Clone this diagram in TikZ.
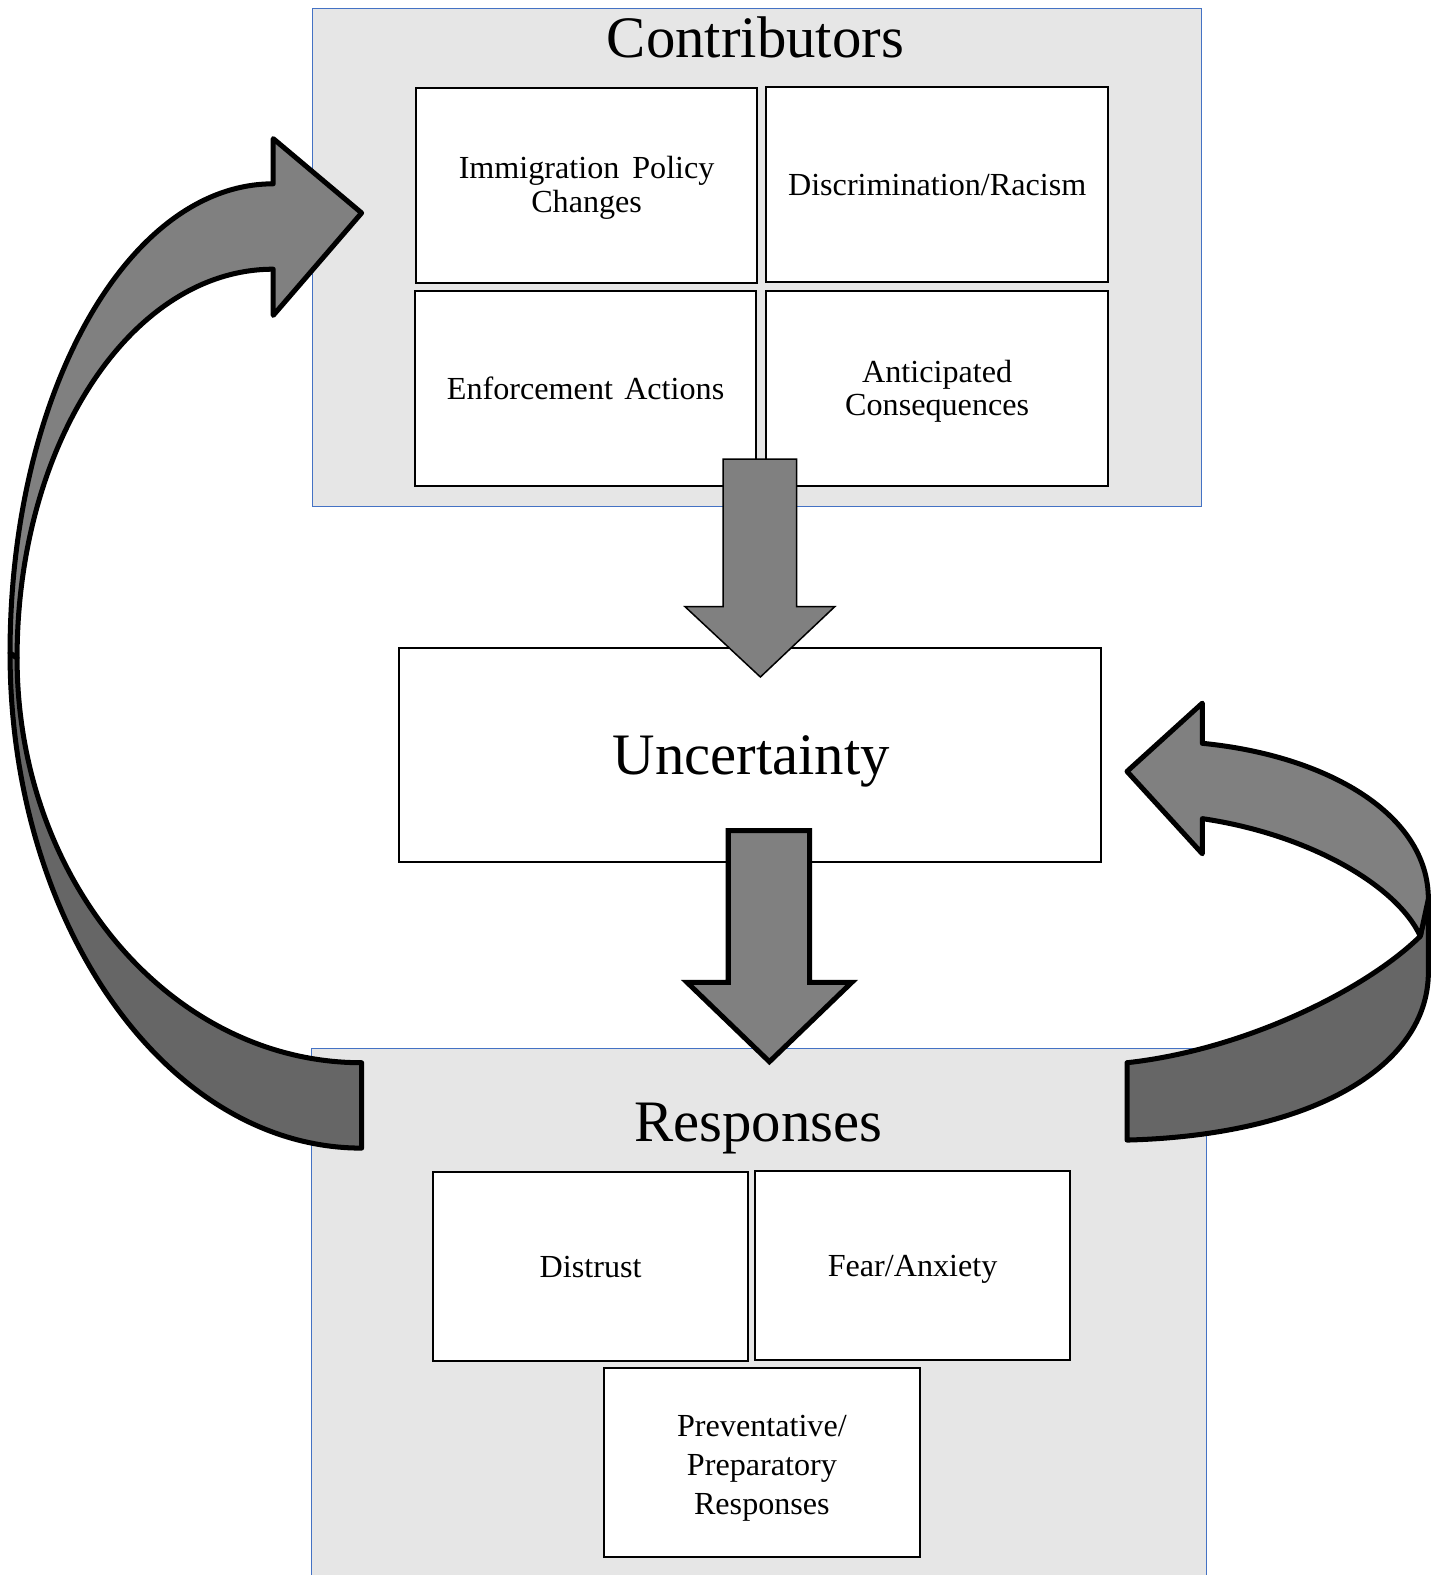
\documentclass[tikz,border=0pt]{standalone}
\usepackage{fontspec}
\setmainfont{Liberation Serif}
\definecolor{panelgray}{RGB}{230,230,230}
\definecolor{panelblue}{RGB}{68,114,196}
\definecolor{arrowlight}{RGB}{128,128,128}
\definecolor{arrowdark}{RGB}{102,102,102}
\newcommand{\titlefont}{\fontsize{29.25}{31}\selectfont}
\newcommand{\itemfont}{\fontsize{16}{16.5}\selectfont}
\newcommand{\boxtext}[2]{\raisebox{#1}[\height][\depth]{\begin{tabular}{@{}c@{}}#2\end{tabular}}}
\begin{document}
\begin{tikzpicture}[x=0.5pt,y=-0.5pt,
  panel/.style={draw=panelblue,fill=panelgray,line width=0.5pt},
  topbox/.style={draw,fill=white,line width=1pt,minimum width=170pt,minimum height=97pt,align=center,font=\itemfont,inner sep=0pt},
  lowbox/.style={topbox,minimum width=157pt,minimum height=94pt},
  heading/.style={anchor=base,font=\titlefont,inner sep=0pt},
  blockarrow/.style={draw,fill=arrowlight,line join=miter},
  bandarrow/.style={draw,line width=2.5pt,line join=round}]
\useasboundingbox (0,0) rectangle (1429,1568);

% panels
\draw[panel] (311,8) rectangle (1196,504);
\fill[panelgray] (310,1044) rectangle (1201,1568);
\draw[panelblue,line width=0.5pt] (310,1568) -- (310,1044) -- (1201,1044) -- (1201,1568);

\node[heading] (contrib) at (752,57) {Contributors};
\node[topbox] (ipc) at (584,185) {\boxtext{-1.5pt}{Immigration\hspace{0.4em}Policy\\Changes}};
\node[topbox] (dis) at (933,184) {Discrimination/Racism};
\node[topbox] (enf) at (583,387) {Enforcement\hspace{0.35em}Actions};
\node[topbox] (ant) at (933,387) {\boxtext{-2pt}{Anticipated\\Consequences}};

\node[draw,fill=white,line width=0.75pt,minimum width=349.5pt,minimum height=106.5pt] (unc) at (746.5,751.5) {};
\node[heading] at (748,771) {Uncertainty};

\node[heading] (resp) at (755,1136) {Responses};
\node[lowbox] (dst) at (588,1261) {Distrust};
\node[lowbox] (fear) at (908.5,1260) {\boxtext{-2pt}{Fear/Anxiety}};
\node[lowbox,font=\fontsize{16}{19.5}\selectfont] (prev) at (758.5,1456) {\boxtext{-2.5pt}{Preventative/\\Preparatory\\Responses}};

% straight arrows
\draw[blockarrow,line width=0.75pt] (720,457) -- (793,457) -- (793,604) -- (831,604) -- (757,674) -- (682,604) -- (720,604) -- cycle;
\draw[blockarrow,line width=2.5pt] (725,827) -- (806,827) -- (806,978) -- (848,978) -- (766,1057) -- (684,978) -- (725,978) -- cycle;

% left curved arrow
\draw[bandarrow,fill=arrowdark] (10,650) .. controls (10,922) and (167,1143) .. (360,1143) -- (360,1058) .. controls (171,1058) and (17,878) .. (17,655) -- cycle;
\draw[bandarrow,fill=arrowlight] (10,650) .. controls (10,392) and (127,183) .. (272,183) -- (272,138) -- (360,212) -- (272,314) -- (272,268) .. controls (131,268) and (17,441) .. (17,655) -- cycle;

% right curved arrow
\draw[bandarrow,fill=arrowdark] (1422,895) -- (1422,968) .. controls (1422,1060) and (1310,1130) .. (1122,1135) -- (1122,1058) .. controls (1240,1045) and (1360,985) .. (1414,932) -- cycle;
\draw[bandarrow,fill=arrowlight] (1197,740) .. controls (1320,752) and (1422,810) .. (1422,895) -- (1414,932) .. controls (1390,880) and (1300,830) .. (1197,815) -- (1197,850) -- (1122,768) -- (1197,700) -- cycle;
\end{tikzpicture}
\end{document}
